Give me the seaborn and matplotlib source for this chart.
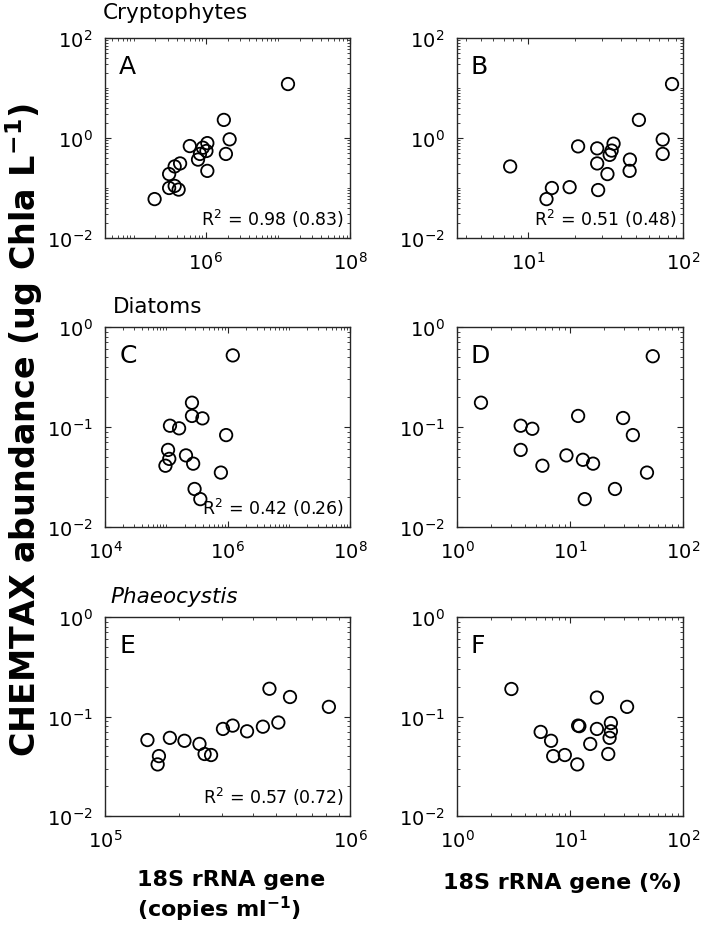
import matplotlib
matplotlib.use("Agg")
import matplotlib.pyplot as plt
import seaborn as sns
import numpy as np
from matplotlib.ticker import LogLocator, NullFormatter

# Panel A / B - Cryptophytes
crypto_copies = [1.38e7, 1.78e6, 2.14e6, 1.9e6, 1.05e6, 1.02e6, 9.1e5, 8.3e5, 7.8e5,
                 6.0e5, 1.05e6, 4.4e5, 3.7e5, 3.1e5, 3.1e5, 3.7e5, 4.2e5, 1.95e5]
crypto_pct = [85, 52, 74, 74, 21.1, 28, 28, 32.6, 45.5, 33.7, 34.7, 35.7, 45.3, 7.7,
              13.2, 14.3, 18.6, 28.4]
crypto_chla = [12.0, 2.3, 0.94, 0.48, 0.79, 0.55, 0.64, 0.48, 0.37, 0.69, 0.22, 0.31,
               0.27, 0.19, 0.10, 0.11, 0.093, 0.06]
crypto_pct_chla = [12.0, 2.3, 0.93, 0.48, 0.68, 0.62, 0.31, 0.19, 0.37, 0.46, 0.56,
                   0.77, 0.22, 0.27, 0.06, 0.10, 0.104, 0.091]

# Panel C / D - Diatoms
diatom_copies = [1.22e6, 2.63e5, 2.63e5, 3.9e5, 1.15e5, 1.62e5, 9.5e5, 1.07e5, 2.1e5,
                 1.12e5, 9.7e4, 2.75e5, 7.8e5, 2.9e5, 3.6e5]
diatom_chla = [0.52, 0.175, 0.129, 0.122, 0.103, 0.097, 0.083, 0.059, 0.052, 0.048,
               0.041, 0.043, 0.035, 0.024, 0.019]
diatom_pct = [54, 1.63, 11.8, 29.5, 3.66, 4.64, 36, 3.66, 9.3, 13, 5.7, 16, 48, 25, 13.5]
diatom_pct_chla = [0.51, 0.175, 0.129, 0.123, 0.103, 0.096, 0.083, 0.059, 0.052, 0.047,
                   0.041, 0.043, 0.035, 0.024, 0.019]

# Panel E / F - Phaeocystis
phaeo_copies = [1.49e5, 1.66e5, 1.64e5, 1.84e5, 2.11e5, 2.43e5, 2.55e5, 2.71e5, 3.03e5,
                3.32e5, 3.8e5, 4.41e5, 4.69e5, 5.1e5, 5.69e5, 8.2e5]
phaeo_chla = [0.058, 0.040, 0.033, 0.061, 0.057, 0.053, 0.042, 0.041, 0.075, 0.081,
              0.071, 0.079, 0.19, 0.087, 0.157, 0.125]
phaeo_pct = [3.03, 5.5, 6.8, 7.1, 9.0, 11.6, 11.8, 12.1, 15.1, 17.3, 17.3, 21.8, 23, 23,
             22.4, 32]
phaeo_pct_chla = [0.189, 0.070, 0.057, 0.040, 0.041, 0.033, 0.081, 0.080, 0.053, 0.155,
                  0.075, 0.042, 0.086, 0.071, 0.061, 0.125]

r2_labels = ['R$^2$ = 0.98 (0.83)', 'R$^2$ = 0.51 (0.48)', 'R$^2$ = 0.42 (0.26)', None,
             'R$^2$ = 0.57 (0.72)', None]
panel_letters = ['A', 'B', 'C', 'D', 'E', 'F']

sns.set_style("ticks")
plt.rcParams['font.family'] = ['DejaVu Sans']
plt.rcParams['mathtext.fontset'] = 'dejavusans'
plt.rcParams['axes.edgecolor'] = '#262626'
plt.rcParams['axes.linewidth'] = 1.0
plt.rcParams['xtick.direction'] = 'in'
plt.rcParams['ytick.direction'] = 'in'
plt.rcParams['text.color'] = 'black'
plt.rcParams['xtick.labelcolor'] = 'black'
plt.rcParams['ytick.labelcolor'] = 'black'

fig = plt.figure(figsize=(7.2, 9.28), dpi=100)

W, H = 720, 928
rows_px = [(39, 239), (328, 528), (618, 817)]
cols_px = [(105, 350), (457, 683)]

panels = [
    (crypto_copies, crypto_chla, (4e4, 1e8), (1e-2, 1e2), [1e6, 1e8], [1e-2, 1, 1e2]),
    (crypto_pct, crypto_pct_chla, (3.5, 100), (1e-2, 1e2), [10, 100], [1e-2, 1, 1e2]),
    (diatom_copies, diatom_chla, (1e4, 1e8), (1e-2, 1), [1e4, 1e6, 1e8], [1e-2, 1e-1, 1]),
    (diatom_pct, diatom_pct_chla, (1, 100), (1e-2, 1), [1, 10, 100], [1e-2, 1e-1, 1]),
    (phaeo_copies, phaeo_chla, (1e5, 1e6), (1e-2, 1), [1e5, 1e6], [1e-2, 1e-1, 1]),
    (phaeo_pct, phaeo_pct_chla, (1, 100), (1e-2, 1), [1, 10, 100], [1e-2, 1e-1, 1]),
]

axes = []
for i, (xs, ys, xlim, ylim, xt, yt) in enumerate(panels):
    r, c = divmod(i, 2)
    top, bot = rows_px[r]
    left, right = cols_px[c]
    ax = fig.add_axes([left / W, 1 - bot / H, (right - left) / W, (bot - top) / H])
    sns.scatterplot(x=xs, y=ys, ax=ax, marker='o', s=80, facecolors='none',
                    edgecolor='black', linewidth=1.3, zorder=3, clip_on=False)
    ax.set_xscale('log')
    ax.set_yscale('log')
    ax.set_xlim(xlim)
    ax.set_ylim(ylim)
    ax.set_xticks(xt)
    ax.set_yticks(yt)
    ax.xaxis.set_minor_locator(LogLocator(base=10, subs=np.arange(1, 10), numticks=50))
    ax.yaxis.set_minor_locator(LogLocator(base=10, subs=np.arange(1, 10), numticks=50))
    ax.xaxis.set_minor_formatter(NullFormatter())
    ax.yaxis.set_minor_formatter(NullFormatter())
    ax.tick_params(which='both', top=True, right=True, labelsize=14, color='#262626')
    ax.tick_params(which='major', length=4, width=0.8, pad=9)
    ax.tick_params(which='minor', length=2, width=0.6)
    for s in ax.spines.values():
        s.set_visible(True)
    ax.text(0.058, 0.92, panel_letters[i], transform=ax.transAxes, fontsize=18,
            ha='left', va='top')
    if r2_labels[i]:
        ax.text(0.975, 0.045, r2_labels[i], transform=ax.transAxes, fontsize=12.5,
                ha='right', va='bottom')
    axes.append(ax)

fig.text(103 / W, 1 - 13 / H, 'Cryptophytes', fontsize=15.5, ha='left', va='center')
fig.text(113 / W, 1 - 307 / H, 'Diatoms', fontsize=15.5, ha='left', va='center')
fig.text(110 / W, 1 - 597 / H, 'Phaeocystis', fontsize=15.5, ha='left', va='center',
         style='italic')

fig.text(24 / W, 1 - 430 / H, 'CHEMTAX abundance (ug Chla L$^{\\mathbf{-1}}$)',
         rotation=90, fontsize=24, fontweight='bold', ha='center', va='center')

fig.text(231 / W, 1 - 897 / H, '18S rRNA gene\n(copies ml$^{\\mathbf{-1}}$)', fontsize=16,
         fontweight='bold', ha='center', va='center', multialignment='left',
         linespacing=1.25)
fig.text(562 / W, 1 - 883 / H, '18S rRNA gene (%)', fontsize=16, fontweight='bold',
         ha='center', va='center')

fig.savefig('out.png', dpi=100)
